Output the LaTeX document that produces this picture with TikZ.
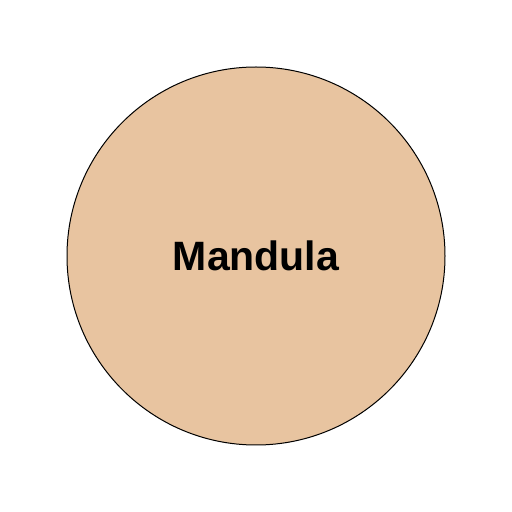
\documentclass[tikz,border=0pt]{standalone}
\usepackage{fontspec}
\setmainfont{Liberation Sans}
\definecolor{tan}{HTML}{E8C4A0}
\begin{document}
\begin{tikzpicture}[x=1pt,y=1pt,every node/.style={draw,circle,fill=tan}]
            \useasboundingbox (0,0) rectangle (512,512);
            \node [minimum size=378pt, line width=1pt, inner sep=0pt,
                   font=\fontsize{41}{48}\selectfont\bfseries] (mandula) at (256,256) {Mandula};
        \end{tikzpicture}
\end{document}
